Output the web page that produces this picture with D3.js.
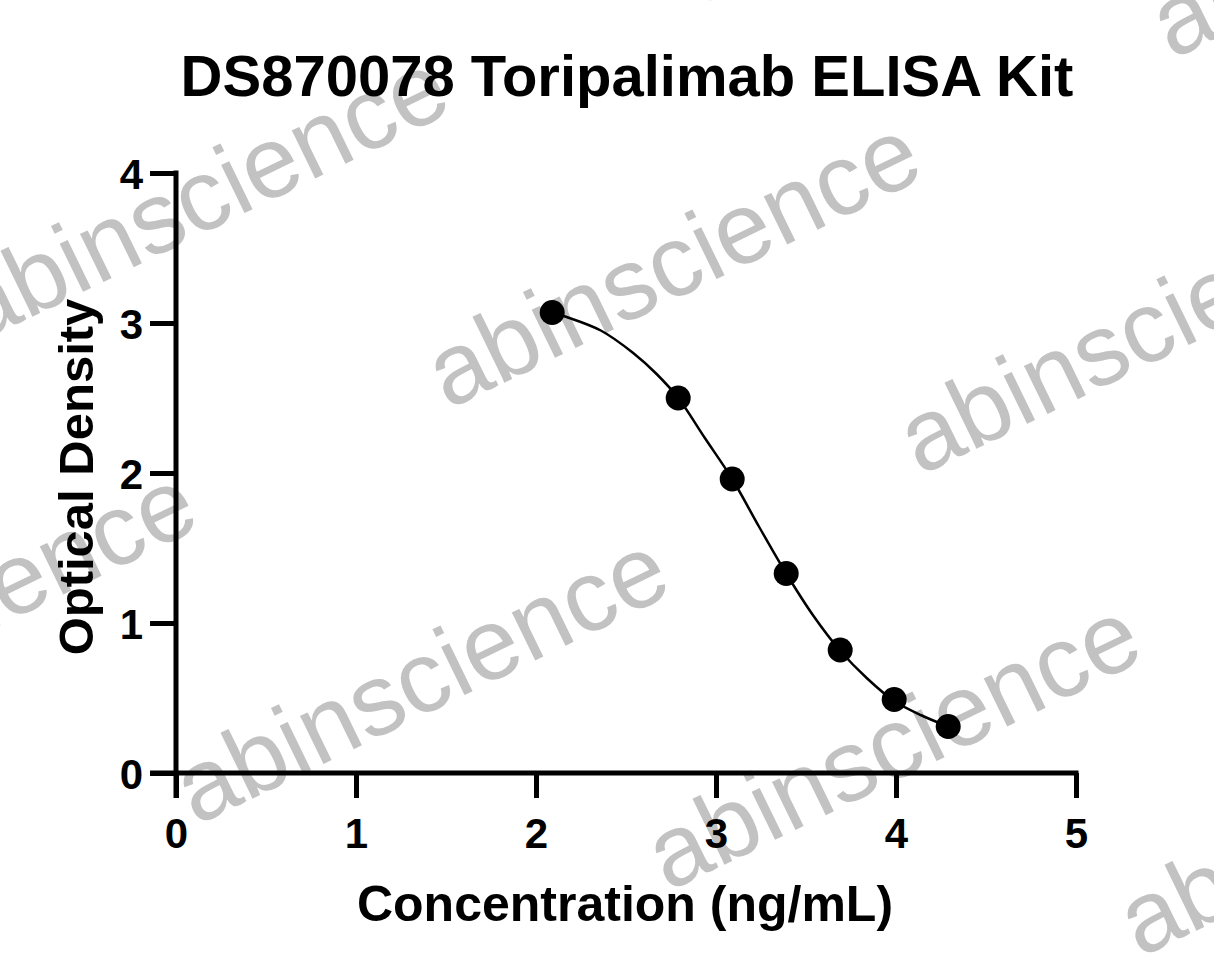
<!DOCTYPE html>
<html>
<head>
<meta charset="utf-8">
<script src="https://cdn.jsdelivr.net/npm/d3@7"></script>
<style>
  html, body { margin: 0; padding: 0; background: #fff; }
  svg { display: block; }
</style>
</head>
<body>
<svg id="chart" width="1214" height="978"></svg>
<script>
// ---- data ----
const titleText = "DS870078 Toripalimab ELISA Kit";
const xLabel = "Concentration (ng/mL)";
const yLabel = "Optical Density";
const concentration = [2.09, 2.79, 3.09, 3.39, 3.69, 3.99, 4.29];
const opticalDensity = [3.07, 2.50, 1.96, 1.33, 0.82, 0.49, 0.31];
// fitted curve
const curveX = [2.09, 2.17, 2.36, 2.54, 2.67, 2.79, 2.94, 3.09, 3.24, 3.39, 3.54, 3.69, 3.84, 3.99, 4.14, 4.29];
const curveY = [3.07, 3.04, 2.95, 2.80, 2.66, 2.50, 2.23, 1.96, 1.64, 1.33, 1.05, 0.815, 0.63, 0.48, 0.385, 0.31];
const xTicks = [0, 1, 2, 3, 4, 5];
const yTicks = [0, 1, 2, 3, 4];
const watermarkText = "abinscience";

// ---- layout ----
const svg = d3.select("#chart");
const W = 1214, H = 978;
const x = d3.scaleLinear().domain([0, 5]).range([176, 1076]);
const y = d3.scaleLinear().domain([0, 4]).range([773, 173]);
const font = "'Liberation Sans', Arial, Helvetica, sans-serif";
const axisW = 5;

svg.append("rect").attr("width", W).attr("height", H).attr("fill", "#fff");

// watermarks
const wm = svg.append("g");
const base = [448, 410], va = [472, 66], vb = [252, -416];
for (let i = -2; i <= 2; i++) {
  for (let j = -2; j <= 2; j++) {
    const px = base[0] + i * va[0] + j * vb[0];
    const py = base[1] + i * va[1] + j * vb[1];
    if (px < -700 || px > W + 50 || py < -100 || py > H + 150) continue;
    wm.append("text")
      .attr("transform", `translate(${px},${py + (py < 0 ? 12 : 0)}) rotate(-26)`)
      .attr("fill", "#c2c2c2")
      .style("font-family", font).style("font-size", "101px")
      .text(watermarkText);
  }
}

// axes (GraphPad style, offset corner)
const axes = svg.append("g");
const xAxis = axes.append("g").attr("transform", `translate(0,${y(0)})`)
  .call(d3.axisBottom(x).tickValues(xTicks).tickSize(25).tickSizeOuter(0).tickFormat(d3.format("d")));
const yAxis = axes.append("g").attr("transform", `translate(${x(0)},0)`)
  .call(d3.axisLeft(y).tickValues(yTicks).tickSize(26).tickSizeOuter(0).tickFormat(d3.format("d")));
[xAxis, yAxis].forEach(g => {
  g.select(".domain").remove();
  g.selectAll(".tick line").attr("stroke", "#000").attr("stroke-width", axisW);
  g.selectAll(".tick text").attr("fill", "#000")
    .style("font-family", font).style("font-weight", "bold").style("font-size", "42px");
});
xAxis.selectAll(".tick text").attr("dy", null).attr("y", 75);
yAxis.selectAll(".tick text").attr("x", -33).attr("dy", "0.36em");
axes.append("line")
  .attr("x1", x(0) - 26).attr("x2", x(5) + axisW / 2)
  .attr("y1", y(0)).attr("y2", y(0))
  .attr("stroke", "#000").attr("stroke-width", axisW);
axes.append("line")
  .attr("x1", x(0)).attr("x2", x(0))
  .attr("y1", y(4) - axisW / 2).attr("y2", y(0) + 25)
  .attr("stroke", "#000").attr("stroke-width", axisW);

// fitted curve
const curvePts = curveX.map((v, i) => [v, curveY[i]]);
svg.append("path")
  .attr("d", d3.line().x(d => x(d[0])).y(d => y(d[1])).curve(d3.curveCatmullRom.alpha(0.5))(curvePts))
  .attr("fill", "none").attr("stroke", "#000").attr("stroke-width", 2.5);

// data points
svg.append("g").selectAll("circle")
  .data(concentration.map((v, i) => [v, opticalDensity[i]]))
  .join("circle")
  .attr("cx", d => x(d[0])).attr("cy", d => y(d[1])).attr("r", 12.5)
  .attr("fill", "#000");

// title and axis labels
svg.append("text")
  .attr("x", 627).attr("y", 96).attr("text-anchor", "middle")
  .style("font-family", font).style("font-weight", "bold").style("font-size", "58px")
  .attr("fill", "#000").text(titleText);
svg.append("text")
  .attr("x", 625).attr("y", 921).attr("text-anchor", "middle")
  .style("font-family", font).style("font-weight", "bold").style("font-size", "50px")
  .attr("fill", "#000").text(xLabel);
svg.append("text")
  .attr("transform", `translate(93,477) rotate(-90)`).attr("text-anchor", "middle")
  .style("font-family", font).style("font-weight", "bold").style("font-size", "49px")
  .attr("fill", "#000").text(yLabel);
</script>
</body>
</html>
